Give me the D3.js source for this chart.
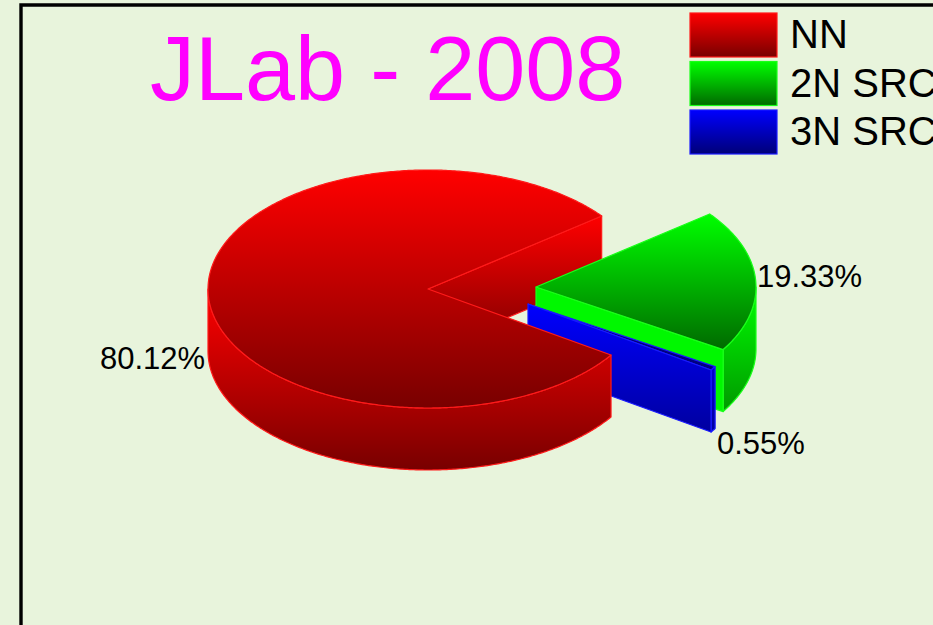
<!DOCTYPE html>
<html><head><meta charset="utf-8">
<script src="https://cdn.jsdelivr.net/npm/d3@7/dist/d3.min.js"></script>
<style>html,body{margin:0;padding:0;background:#e8f4dc;overflow:hidden}svg{display:block}text{font-family:"Liberation Sans",Arial,sans-serif}</style>
</head><body><svg id="c" width="933" height="625"></svg>
<script>
const categories = ["NN", "2N SRC", "3N SRC"];
const values = [80.12, 19.33, 0.55];
const valueLabels = ["80.12%", "19.33%", "0.55%"];
const titleText = "JLab - 2008";

const svg = d3.select("#c");
const W = 933, H = 625;
const cx = 428, cy = 289, rx = 220, ry = 119, depth = 62;
const bright = ["#ff0000", "#00ff00", "#0000ff"];
const dark = ["#780000", "#006a00", "#000078"];
const edge = ["#ff1a1a", "#19ff19", "#1a1aff"];
const offset = [[0, 0], [108, -2], [100, 15]];
const labelPos = [[100, 369], [757, 287], [717, 454]];

const sx = d3.scaleLinear().domain([-1, 1]).range([cx - rx, cx + rx]);
const sy = d3.scaleLinear().domain([-1, 1]).range([cy - ry, cy + ry]);
const start = 33.7 * Math.PI / 180;
const arcs = d3.pie().sort(null).startAngle(start).endAngle(start + 2 * Math.PI)(values);

const defs = svg.append("defs");
function grad(id, i, y1, y2) {
  const g = defs.append("linearGradient").attr("id", id).attr("gradientUnits", "userSpaceOnUse")
    .attr("x1", 0).attr("x2", 0).attr("y1", y1).attr("y2", y2);
  g.append("stop").attr("offset", 0).attr("stop-color", bright[i]);
  g.append("stop").attr("offset", 1).attr("stop-color", dark[i]);
  return `url(#${id})`;
}

svg.append("rect").attr("width", W).attr("height", H).attr("fill", "#e8f4dc");
svg.append("path").attr("d", `M21,${H}V5H${W}`).attr("fill", "none").attr("stroke", "#000").attr("stroke-width", 3.4);

const pt = (a, o, dy = 0) => [sx(Math.cos(a)) + o[0], sy(Math.sin(a)) + o[1] + dy];
const centre = (o, dy = 0) => [sx(0) + o[0], sy(0) + o[1] + dy];
const samples = (a0, a1) => { const n = Math.max(2, Math.ceil((a1 - a0) / 0.01)); return d3.range(n + 1).map(k => a0 + (a1 - a0) * k / n); };
const line = d3.line();

function topFace(d, o) {
  return line([centre(o), ...samples(d.startAngle, d.endAngle).map(a => pt(a, o))]) + "Z";
}
function cutFace(a, o) {
  return line([centre(o), pt(a, o), pt(a, o, depth), centre(o, depth)]) + "Z";
}
function wall(a0, a1, o) {
  const s = samples(a0, a1);
  return line([...s.map(a => pt(a, o)), ...s.reverse().map(a => pt(a, o, depth))]) + "Z";
}
function frontWall(d, o) {
  // only the part of the rim that faces the viewer (sin > 0)
  const parts = [];
  const tau = 2 * Math.PI;
  for (const [lo, hi] of [[0, Math.PI], [tau, tau + Math.PI]]) {
    const a0 = Math.max(d.startAngle, lo), a1 = Math.min(d.endAngle, hi);
    if (a1 > a0) parts.push(wall(a0, a1, o));
  }
  return parts.join("");
}
function drawPath(d, fill, i) {
  svg.append("path").attr("d", d).attr("fill", fill).attr("stroke", edge[i]).attr("stroke-width", 1.2).attr("stroke-linejoin", "round");
}
function ys(o) { return [cy - ry + o[1], cy + ry + o[1]]; }

// order: back cut of NN, 2N SRC, 3N SRC, then front of NN
const [nn, two, three] = arcs;
const oN = offset[0], oT = offset[1], oB = offset[2];

drawPath(cutFace(nn.endAngle, oN), grad("nnCut", 0, pt(nn.endAngle, oN)[1], centre(oN, depth)[1]), 0);

// 2N SRC
drawPath(frontWall(two, oT), grad("twoWall", 1, centre(oT)[1], centre(oT)[1] + ry + depth), 1);
drawPath(cutFace(two.endAngle, oT), "#00f800", 1);
drawPath(topFace(two, oT), grad("twoTop", 1, pt(two.startAngle, oT)[1], pt(two.endAngle, oT)[1]), 1);

// 3N SRC
drawPath(topFace(three, oB), "#000080", 2);
drawPath(frontWall(three, oB), grad("threeWall", 2, centre(oB)[1], centre(oB)[1] + ry + depth), 2);
drawPath(cutFace(three.endAngle, oB), grad("threeCut", 2, centre(oB)[1], centre(oB)[1] + ry + depth), 2);

// NN
drawPath(frontWall(nn, oN), grad("nnWall", 0, cy, cy + ry + depth), 0);
drawPath(topFace(nn, oN), grad("nnTop", 0, cy - ry, cy + ry), 0);

// labels
svg.selectAll("text.v").data(valueLabels).join("text").attr("class", "v")
  .attr("x", (d, i) => labelPos[i][0]).attr("y", (d, i) => labelPos[i][1])
  .attr("font-size", 31).attr("fill", "#000").text(d => d);

// title
svg.append("text").attr("x", 150).attr("y", 100).attr("font-size", 90).attr("fill", "#ff00ff").text(titleText);

// legend
const ly = d3.scalePoint().domain(categories).range([13, 110]);
categories.forEach((c, i) => {
  const y = ly(c);
  svg.append("rect").attr("x", 690).attr("y", y).attr("width", 87).attr("height", 44)
    .attr("fill", grad("lg" + i, i, y, y + 44)).attr("stroke", edge[i]).attr("stroke-width", 1.2);
  svg.append("text").attr("x", 790).attr("y", y + 35).attr("font-size", 40).attr("fill", "#000").text(c);
});
</script></body></html>
